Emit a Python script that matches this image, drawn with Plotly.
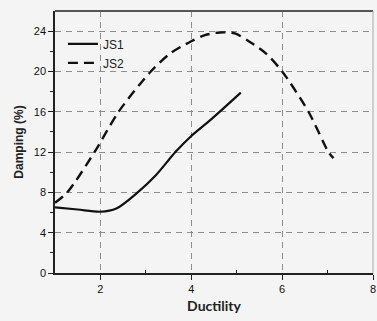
import plotly.graph_objects as go

js1_x = [1.0, 1.5, 2.0, 2.35, 2.82, 3.22, 3.65, 4.0, 4.45, 5.09]
js1_y = [6.52, 6.3, 6.08, 6.4, 8.0, 9.7, 12.0, 13.6, 15.3, 17.9]

js2_x = [1.0, 1.27, 1.87, 2.4, 3.11, 3.54, 4.0, 4.3, 4.63, 4.96, 5.28, 5.64, 6.0, 6.58, 7.02, 7.13]
js2_y = [6.97, 8.0, 12.0, 16.0, 20.0, 21.8, 23.0, 23.6, 23.87, 23.77, 22.95, 21.8, 20.0, 16.0, 12.0, 11.4]

x_ticks = [2, 4, 6, 8]
y_ticks = [0, 4, 8, 12, 16, 20, 24]

bg = "#f4f4f4"
grid_col = "#8e8e8e"

fig = go.Figure()
fig.add_trace(go.Scatter(x=js1_x, y=js1_y, mode="lines", name="JS1",
                         line=dict(color="#111111", width=2.2, shape="spline", smoothing=0.8)))
fig.add_trace(go.Scatter(x=js2_x, y=js2_y, mode="lines", name="JS2",
                         line=dict(color="#111111", width=2.4, dash="10px,6px", shape="spline", smoothing=0.8)))

fig.update_layout(
    width=377, height=321,
    margin=dict(l=55, r=1, t=11, b=48),
    paper_bgcolor=bg, plot_bgcolor=bg,
    font=dict(family="Liberation Sans, Arial", size=11, color="#111111"),
    showlegend=True,
    legend=dict(x=0.025, y=0.93, xanchor="left", yanchor="top",
                bgcolor="rgba(0,0,0,0)", font=dict(size=12, color="#222222"),
                itemwidth=30, tracegroupgap=0),
)
fig.update_xaxes(
    range=[1, 8], tickvals=x_ticks, ticktext=[str(v) for v in x_ticks],
    ticklabeloverflow="allow",
    showline=True, linecolor="#222222", linewidth=1.5, mirror=False,
    ticks="outside", ticklen=5, tickwidth=1.2, tickcolor="#222222",
    showgrid=True, gridcolor=grid_col, gridwidth=1.4, griddash="6px,5px",
    minor=dict(tickvals=[3, 5, 7], ticks="inside", ticklen=3, tickcolor="#222222", showgrid=False),
    zeroline=False,
    title=dict(text="<b>Ductility</b>", font=dict(family="Lato, Open Sans", size=14, color="#222222"), standoff=7),
)
fig.update_yaxes(
    range=[0, 26], tickvals=y_ticks, ticktext=[str(v) for v in y_ticks],
    showline=True, linecolor="#222222", linewidth=1.5,
    ticks="outside", ticklen=5, tickwidth=1.2, tickcolor="#222222",
    showgrid=True, gridcolor=grid_col, gridwidth=1.4, griddash="6px,5px",
    minor=dict(tickvals=[2, 6, 10, 14, 18, 22], ticks="outside", ticklen=3, tickcolor="#222222", showgrid=False),
    zeroline=False,
    title=dict(text="<b>Damping (%)</b>", font=dict(family="Liberation Sans, Arial", size=12, color="#222222"), standoff=8),
)
fig.add_shape(type="line", xref="paper", yref="paper", x0=0, x1=1, y0=1, y1=1,
              line=dict(color="#555555", width=2))
fig.add_shape(type="line", xref="paper", yref="paper", x0=1, x1=1, y0=0, y1=1,
              line=dict(color="#aaaaaa", width=1))

fig.write_html("out.html")
